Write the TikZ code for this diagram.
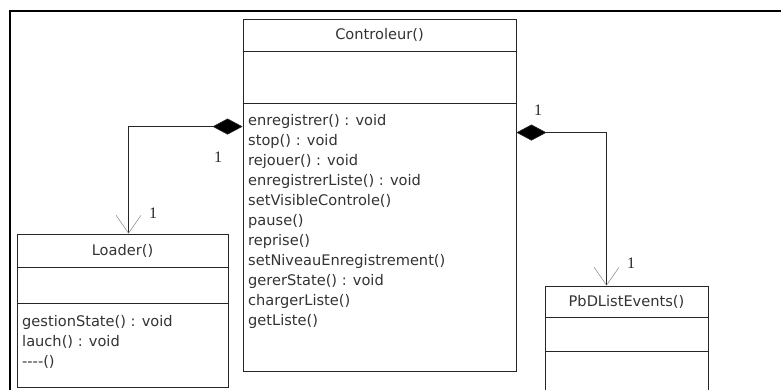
\documentclass[tikz,border=0pt]{standalone}
\usepackage{fontspec}
\setmainfont{Liberation Serif}
\newfontfamily\clsfont{DejaVu Sans}
\usetikzlibrary{arrows.meta,calc,shadows}
\begin{document}
\begin{tikzpicture}[x=1pt,y=-1pt,
  cls/.style={draw=black!85, line width=0.9pt, fill=white, inner sep=0,
    drop shadow={shadow xshift=1.2pt, shadow yshift=-1.2pt, fill=black!35, opacity=1}},
  sep/.style={draw=black!85, line width=0.9pt},
  ttl/.style={font=\clsfont\fontsize{14.6}{17}\selectfont, text=black!80, inner sep=0},
  meth/.style={font=\clsfont\fontsize{14.6}{17}\selectfont, text=black!80, anchor=base west, inner sep=0},
  mult/.style={font=\fontsize{16}{18}\selectfont, text=black!85, inner sep=0},
  comp/.style={draw=black!85, line width=0.6pt,
    {Diamond[length=30pt,width=16pt,fill=black]}-{Straight Barb[length=18pt,width=25pt,line width=0.4pt,color=black!55]}}
]
\useasboundingbox (0,0) rectangle (781,389);
\fill[white] (0,0) rectangle (781,389);
\begin{scope}
\clip (0,0) rectangle (781,389);
% frame
\draw[line width=2.2pt, black] (10,400) |- (790,11);

% classes
\node[cls, minimum width=273pt, minimum height=352pt] (ctl) at (379.5,195) {};
\node[cls, minimum width=211pt, minimum height=153pt] (loader) at (122.5,310.5) {};
\node[cls, minimum width=163pt, minimum height=134pt] (pbd) at (626.5,353) {};

% compartments
\draw[sep] ($(ctl.north west)+(0,33)$) -- ($(ctl.north east)+(0,33)$);
\draw[sep] ($(ctl.north west)+(0,85)$) -- ($(ctl.north east)+(0,85)$);
\draw[sep] ($(loader.north west)+(0,34)$) -- ($(loader.north east)+(0,34)$);
\draw[sep] ($(loader.north west)+(0,70)$) -- ($(loader.north east)+(0,70)$);
\draw[sep] ($(pbd.north west)+(0,32)$) -- ($(pbd.north east)+(0,32)$);
\draw[sep] ($(pbd.north west)+(0,66)$) -- ($(pbd.north east)+(0,66)$);

% titles
\node[ttl] (ctlt) at ($(ctl.north)+(0,16.5)$) {Controleur()};
\node[ttl] (loadert) at ($(loader.north)+(0,17)$) {Loader()};
\node[ttl] (pbdt) at ($(pbd.north)+(0,16)$) {PbDListEvents()};

% methods
\foreach \t [count=\i] in {enregistrer() : void, stop() : void, rejouer() : void,
  enregistrerListe() : void, setVisibleControle(), pause(), reprise(),
  setNiveauEnregistrement(), gererState() : void, chargerListe(), getListe()}
  \node[meth] (cm\i) at (248,{125.5+20*(\i-1)}) {\t};
\foreach \t [count=\i] in {gestionState() : void, lauch() : void, ----()}
  \node[meth] (lm\i) at (22,{326+20*(\i-1)}) {\t};

% connectors
\draw[comp] ($(ctl.north west)+(0,108)$) -| ($(loader.north west)+(112,0)$);
\draw[comp] ($(ctl.north east)+(0,114)$) -| ($(pbd.north west)+(62,0)$);

% multiplicities
\node[mult] (m1) at (218,157) {1};
\node[mult] (m2) at (153,213) {1};
\node[mult] (m3) at (538,110) {1};
\node[mult] (m4) at (631,263) {1};
\end{scope}
\end{tikzpicture}
\end{document}
